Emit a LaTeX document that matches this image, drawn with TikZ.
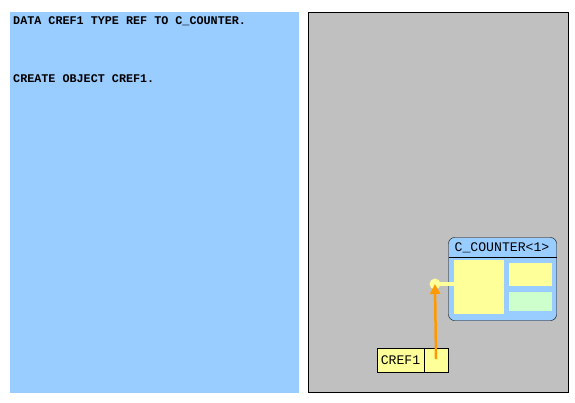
\documentclass[tikz,border=0pt]{standalone}
\usepackage{fontspec}
\setmonofont{Liberation Mono}
\usetikzlibrary{arrows.meta}
\begin{document}
\begin{tikzpicture}[x=1bp,y=-1bp,
  code/.style={anchor=west,inner sep=0pt,font=\ttfamily\bfseries\fontsize{11.8}{13}\selectfont},
  lbl/.style={inner sep=0pt,font=\ttfamily\fontsize{13.2}{14}\selectfont},
]
\definecolor{panelblue}{HTML}{99CCFF}
\definecolor{panelgray}{HTML}{C0C0C0}
\definecolor{lyellow}{HTML}{FFFF99}
\definecolor{lgreen}{HTML}{CCFFCC}
\definecolor{orng}{HTML}{FF9900}
\useasboundingbox (0,0) rectangle (575,402);
\fill[white] (0,0) rectangle (575,402);
% left panel
\fill[panelblue] (10,12) rectangle (299,393);
\node[code] (l1) at (13,21) {DATA CREF1 TYPE REF TO C\_COUNTER.};
\node[code] (l2) at (13,79) {CREATE OBJECT CREF1.};
% right panel
\draw[fill=panelgray, draw=black] (308.5,12.5) rectangle (568.5,392.5);
% object
\draw[fill=panelblue, rounded corners=6pt] (448.5,237.5) rectangle (556.5,320.5);
\draw (448.5,257.5) -- (556.5,257.5);
\node[lbl] (hdr) at (502,247.5) {C\_COUNTER<1>};
\fill[lyellow] (454,260) rectangle (504,314);
\fill[lyellow] (509,263) rectangle (552,286);
\fill[lgreen] (509,292) rectangle (552,311);
\node[circle, fill=lyellow, inner sep=0pt, minimum size=11bp] (dot) at (435,284) {};
\coordinate (objl) at (454,284);
\draw[lyellow, line width=4bp] (dot.center) -- (objl);
% CREF1 variable
\draw[fill=lyellow] (377.5,348.5) rectangle (448.5,372.5);
\draw (424.5,348.5) -- (424.5,372.5);
\node[lbl] (cref) at (400.5,360.5) {CREF1};
\coordinate (refsrc) at (436,359);
\draw[orng, line width=2.5bp, -{Triangle[length=10bp,width=10bp]}] (refsrc) -- (dot.center);
\end{tikzpicture}
\end{document}
